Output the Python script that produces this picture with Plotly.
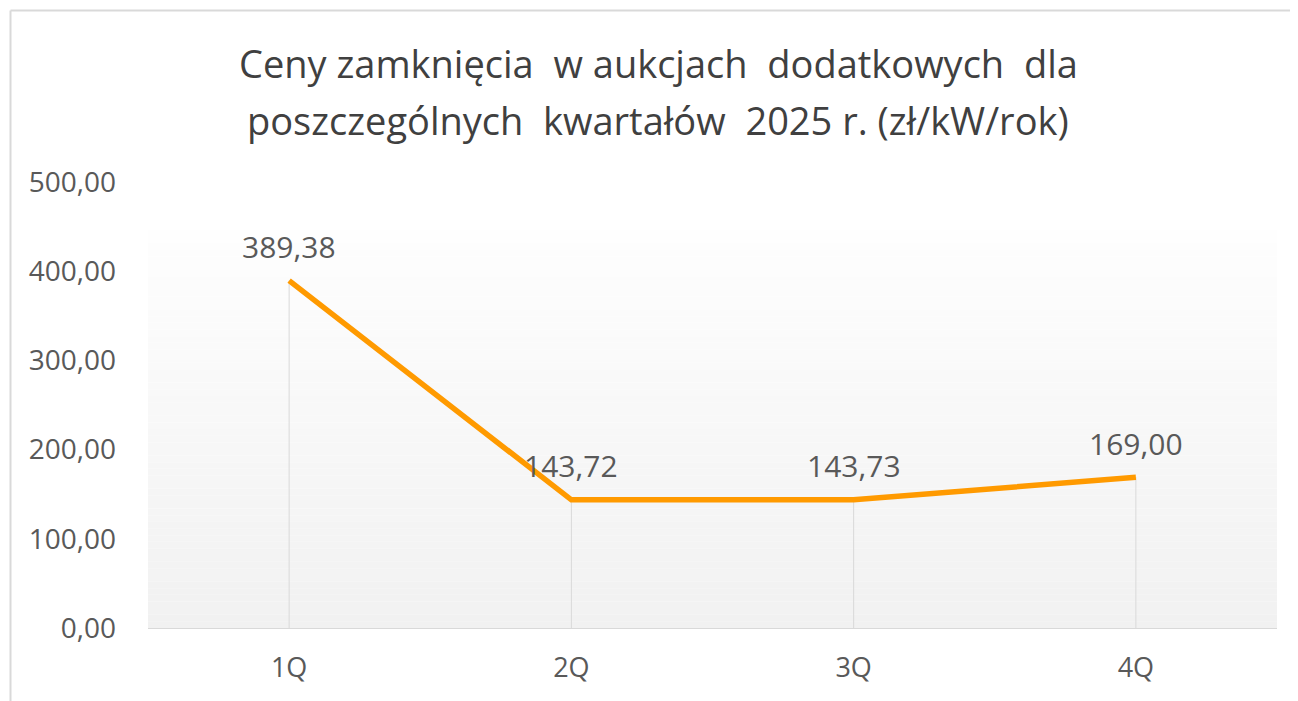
import plotly.graph_objects as go

categories = ["1Q", "2Q", "3Q", "4Q"]
values = [389.38, 143.72, 143.73, 169.00]
y_ticks = [0, 100, 200, 300, 400, 500]
title_lines = ["Ceny zamknięcia  w aukcjach  dodatkowych  dla",
               "poszczególnych  kwartałów  2025 r. (zł/kW/rok)"]

# page body has an 8px margin; design in page pixels and convert
OFF = 8
W, H = 1298 - OFF, 701 - OFF
L, R, T, B = 148 - OFF, 21, 182 - OFF, 73
ph = H - T - B
pw = W - L - R

def py(px):
    return (H - B - (px - OFF)) / ph

def pxr(px):
    return ((px - OFF) - L) / pw

fig = go.Figure()

# drop lines
dx, dy = [], []
for c, v in zip(categories, values):
    dx += [c, c, None]
    dy += [0, v, None]
fig.add_trace(go.Scatter(x=dx, y=dy, mode="lines",
                         line=dict(color="#d9d9d9", width=1),
                         hoverinfo="skip", showlegend=False))

fig.add_trace(go.Scatter(x=categories, y=values, mode="lines",
                         line=dict(color="#FF9A00", width=5.5),
                         showlegend=False))

for c, v in zip(categories, values):
    fig.add_annotation(x=c, y=v, text=f"{v:.2f}".replace(".", ","),
                       showarrow=False, yshift=34,
                       font=dict(size=30, color="#595959"))

for i, t in enumerate(title_lines):
    fig.add_annotation(xref="paper", yref="paper", x=pxr(658), y=py(63 + 57 * i),
                       text=t, showarrow=False, xanchor="center", yanchor="middle",
                       font=dict(size=38, color="#404040"))

shapes = []
# gradient background
n = 60
top, bot = 230, 628
c0, c1 = 254, 241
for i in range(n):
    y0 = top + (bot - top) * i / n
    y1 = top + (bot - top) * (i + 1) / n
    g = round(c0 + (c1 - c0) * (i + 0.5) / n)
    col = f"rgb({g},{g},{g})"
    shapes.append(dict(type="rect", xref="paper", yref="paper",
                       x0=0, x1=1, y0=py(y1), y1=py(y0),
                       fillcolor=col, line=dict(width=0, color=col), layer="below"))
# outer frame (top and left)
shapes.append(dict(type="line", xref="paper", yref="paper",
                   x0=pxr(10.5), x1=pxr(1298), y0=py(10.5), y1=py(10.5),
                   line=dict(color="#d9d9d9", width=2)))
shapes.append(dict(type="line", xref="paper", yref="paper",
                   x0=pxr(10.5), x1=pxr(10.5), y0=py(10.5), y1=py(701),
                   line=dict(color="#d9d9d9", width=2)))

fig.update_layout(
    width=W, height=H, margin=dict(l=L, r=R, t=T, b=B),
    paper_bgcolor="white", plot_bgcolor="rgba(0,0,0,0)",
    font=dict(family="Open Sans", color="#595959"),
    separators=", ",
    shapes=shapes,
)
fig.update_xaxes(type="category", range=[-0.5, 3.5], showgrid=False,
                 showline=True, linecolor="#d9d9d9", linewidth=1,
                 ticks="", tickfont=dict(size=27, color="#595959"),
                 ticklabelstandoff=16, zeroline=False)
fig.update_yaxes(range=[0, 500], tickvals=y_ticks, tickformat=".2f",
                 showgrid=False, showline=False, zeroline=False, ticks="",
                 tickfont=dict(size=28, color="#595959"),
                 ticklabelstandoff=31)

fig.write_html("out.html")
